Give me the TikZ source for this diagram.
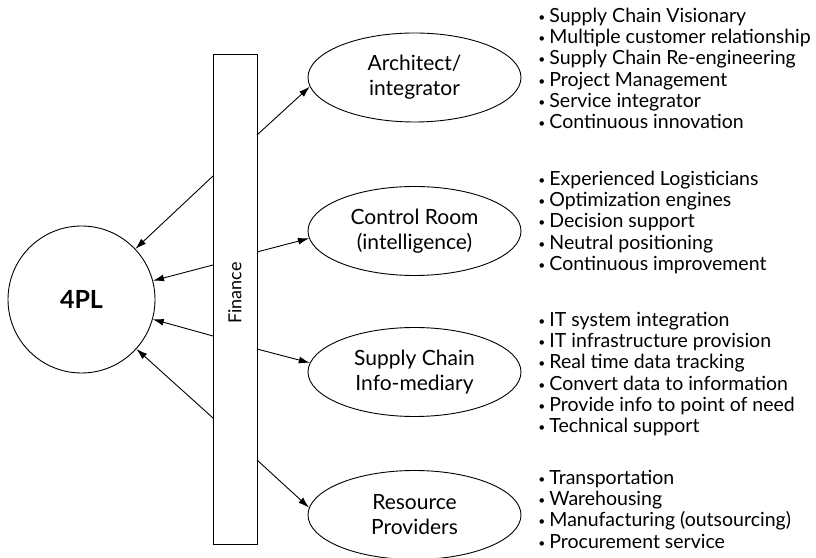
\documentclass[tikz,border=0pt]{standalone}
\usepackage{fontspec}
\setmainfont{Lato}
\usetikzlibrary{shapes.geometric,arrows.meta}
\newcommand{\bul}{\raisebox{1pt}{\fontsize{12}{12}\selectfont•}\hspace{4pt}}
\begin{document}
\begin{tikzpicture}[x=1pt,y=1pt,line width=0.9pt,
  role/.style={draw,ellipse,minimum width=213pt,minimum height=89pt,align=center,font=\fontsize{21}{25}\selectfont},
  items/.style={anchor=north west,align=left,font=\fontsize{19.5}{21.3}\selectfont},
  arr/.style={-{Latex[length=11pt,width=7pt]}}]
\tikzstyle{every node}+=[inner sep=0pt]
\useasboundingbox (0,0) rectangle (816,557);
% 4PL and the finance bar
\node [draw,circle,minimum size=147pt,font=\fontsize{25}{30}\selectfont\bfseries] (pl) at (81.5,257.5) {4PL};
\node [draw,minimum width=44pt,minimum height=490pt] (fin) at (235,258) {};
\node [rotate=90,font=\fontsize{18}{21}\selectfont] (finlbl) at (235,264) {Finance};
% roles
\node [role] (arch) at (414.5,479.5) {Architect/\\integrator};
\node [role] (ctrl) at (414.5,326) {Control Room\\(intelligence)};
\node [role] (info) at (414.5,185) {Supply Chain\\Info-mediary};
\node [role] (res) at (414.5,42) {Resource\\Providers};
% lists
\node [items] (archlist) at (538,549.5) {\bul Supply Chain Visionary\\\bul Multiple customer relationship\\\bul Supply Chain Re-engineering\\\bul Project Management\\\bul Service integrator\\\bul Continuous innovation};
\node [items] (ctrllist) at (538,386.5) {\bul Experienced Logisticians\\\bul Optimization engines\\\bul Decision support\\\bul Neutral positioning\\\bul Continuous improvement};
\node [items] (infolist) at (538,245.5) {\bul IT system integration\\\bul IT infrastructure provision\\\bul Real time data tracking\\\bul Convert data to information\\\bul Provide info to point of need\\\bul Technical support};
\node [items] (reslist) at (538,87.5) {\bul Transportation\\\bul Warehousing\\\bul Manufacturing (outsourcing)\\\bul Procurement service};
% points on the bar
\coordinate (l1) at (213,381);
\coordinate (l2) at (213,292);
\coordinate (l3) at (213,221);
\coordinate (l4) at (213,139);
\coordinate (r1) at (257,422);
\coordinate (r2) at (257,305);
\coordinate (r3) at (257,208);
\coordinate (r4) at (257,97);
\draw [arr] (l1) -- (pl);
\draw [arr] (l2) -- (pl);
\draw [arr] (l3) -- (pl);
\draw [arr] (l4) -- (pl);
\draw [arr] (r1) -- (arch.185);
\draw [arr] (r2) -- (ctrl.184);
\draw [arr] (r3) -- (info.175);
\draw [arr] (r4) -- (res.176);
\end{tikzpicture}
\end{document}
